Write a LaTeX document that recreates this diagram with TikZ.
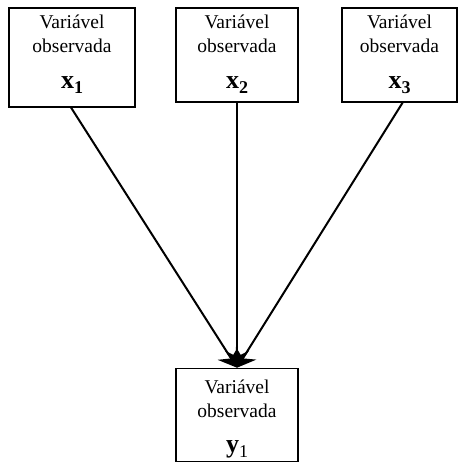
\documentclass[tikz,border=0pt]{standalone}
\usepackage{fontspec}
\setmainfont{Liberation Serif}
\usetikzlibrary{arrows.meta}
\begin{document}
\begin{tikzpicture}[x=1pt,y=-1pt,
  box/.style={draw, line width=1.6pt, inner sep=0pt},
  lbl/.style={inner sep=0pt, anchor=base, font=\fontsize{19.5}{22}\selectfont},
  var/.style={inner sep=0pt, anchor=base},
  conn/.style={line width=2pt, -{Stealth[length=17pt,width=24pt,inset=6pt]}}]
\useasboundingbox (0,0) rectangle (461,462);

% observed variables
\node[box, minimum width=126pt, minimum height=99pt] (b1) at (72,57.5) {};
\node[box, minimum width=122pt, minimum height=94pt] (b2) at (237,55) {};
\node[box, minimum width=115pt, minimum height=94pt] (b3) at (399.5,55) {};
\node[box, minimum width=122pt, minimum height=93pt] (b4) at (237,415) {};

% labels
\newcommand{\varname}[2]{{\fontsize{26}{28}\selectfont\bfseries #1}\raisebox{-5pt}{\fontsize{18}{20}\selectfont #2}}
\node[lbl] (t1a) at (72,29) {Variável};
\node[lbl] (t1b) at (72,53) {observada};
\node[var] (t1c) at (72,89) {\varname{x}{\bfseries 1}};

\node[lbl] (t2a) at (237,29) {Variável};
\node[lbl] (t2b) at (237,53) {observada};
\node[var] (t2c) at (237,89) {\varname{x}{\bfseries 2}};

\node[lbl] (t3a) at (399.5,29) {Variável};
\node[lbl] (t3b) at (399.5,53) {observada};
\node[var] (t3c) at (399.5,89) {\varname{x}{\bfseries 3}};

\node[lbl] (t4a) at (237,393) {Variável};
\node[lbl] (t4b) at (237,417) {observada};
\node[var] (t4c) at (237,452) {\varname{y}{1}};

% connectors
\coordinate (s1) at (71,107.5);
\coordinate (s3) at (403,102);
\draw[conn] (s1) -- (b4.north);
\draw[conn] (b2.south) -- (b4.north);
\draw[conn] (s3) -- (b4.north);
\end{tikzpicture}
\end{document}
